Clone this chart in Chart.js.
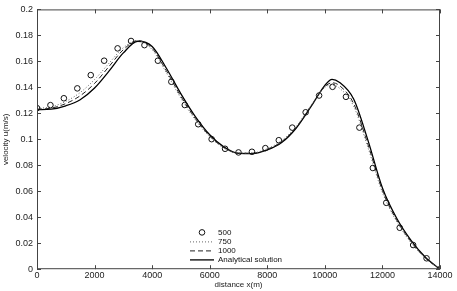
<!DOCTYPE html>
<html>
<head>
<meta charset="utf-8">
<script src="https://cdn.jsdelivr.net/npm/chart.js@4.4.1/dist/chart.umd.min.js"></script>
<style>
  html, body { margin: 0; padding: 0; background: #fff; }
  #grafico { display: block; }
</style>
</head>
<body>
<canvas id="grafico" width="457" height="291"></canvas>
<script>
// x positions (m) for the continuous curves
const lineX = [0, 500, 1000, 1500, 2000, 2500, 3000, 3500, 4000, 4500, 5000, 5500, 6000, 6500, 7000,
  7500, 8000, 8500, 9000, 9500, 10000, 10250, 10500, 11000, 11500, 12000, 12500, 13000, 13500, 14000];

const analitica = [0.1228, 0.1232, 0.1258, 0.1305, 0.1395, 0.1525, 0.1665, 0.1755, 0.1715, 0.1545, 0.1350,
  0.1175, 0.1035, 0.0940, 0.0892, 0.0890, 0.0918, 0.0975, 0.1085, 0.1245, 0.1415, 0.1462, 0.1440, 0.1310,
  0.0990, 0.0625, 0.0390, 0.0220, 0.0090, 0];

const malla1000 = [0.1232, 0.1240, 0.1275, 0.1335, 0.1430, 0.1560, 0.1690, 0.1760, 0.1700, 0.1525, 0.1330,
  0.1160, 0.1025, 0.0935, 0.0893, 0.0893, 0.0923, 0.0982, 0.1090, 0.1248, 0.1405, 0.1435, 0.1415, 0.1275,
  0.0958, 0.0605, 0.0375, 0.0210, 0.0085, 0];

const malla750 = [0.1238, 0.1250, 0.1292, 0.1360, 0.1460, 0.1585, 0.1705, 0.1760, 0.1690, 0.1510, 0.1315,
  0.1150, 0.1020, 0.0932, 0.0895, 0.0896, 0.0928, 0.0990, 0.1098, 0.1255, 0.1400, 0.1418, 0.1395, 0.1255,
  0.0935, 0.0590, 0.0365, 0.0202, 0.0082, 0];

// circles (500 m run)
const puntosX = [0, 467, 933, 1400, 1867, 2333, 2800, 3267, 3733, 4200, 4667, 5133, 5600, 6067, 6533, 7000,
  7467, 7933, 8400, 8867, 9333, 9800, 10267, 10733, 11200, 11667, 12133, 12600, 13067, 13533, 14000];
const malla500 = [0.1240, 0.1263, 0.1316, 0.1392, 0.1494, 0.1605, 0.1700, 0.1757, 0.1725, 0.1605, 0.1443,
  0.1264, 0.1116, 0.1001, 0.0927, 0.0899, 0.0904, 0.0932, 0.0993, 0.1090, 0.1208, 0.1337, 0.1404, 0.1327,
  0.1090, 0.0779, 0.0511, 0.0319, 0.0186, 0.0084, 0];

const etiquetas = ['500', '750', '1000', 'Analytical solution'];
const tituloX = 'distance x(m)';
const tituloY = 'velocity u(m/s)';

const fuente = '"Liberation Sans", Arial, sans-serif';

const toXY = (xs, ys) => xs.map((x, i) => ({ x: x, y: ys[i] }));

// marco, ticks hacia adentro, titulos y leyenda
const decoracion = {
  id: 'decoracion',
  afterDraw(chart) {
    const ctx = chart.ctx;
    const a = chart.chartArea;
    const sx = chart.scales.x, sy = chart.scales.y;
    ctx.save();
    ctx.setLineDash([]);
    ctx.globalAlpha = 1;
    ctx.fillStyle = '#444';
    const w = a.right - a.left, h = a.bottom - a.top;
    ctx.fillRect(a.left, a.top, w, 1);
    ctx.fillRect(a.left, a.bottom - 1, w, 1);
    ctx.fillRect(a.left, a.top, 1, h);
    ctx.fillRect(a.right - 1, a.top, 1, h);
    sx.ticks.forEach(t => {
      const px = Math.round(sx.getPixelForValue(t.value));
      ctx.fillRect(px, a.bottom - 4, 1, 4);
      ctx.fillRect(px, a.top, 1, 4);
    });
    sy.ticks.forEach(t => {
      const py = Math.round(sy.getPixelForValue(t.value));
      ctx.fillRect(a.left, py, 4, 1);
      ctx.fillRect(a.right - 4, py, 4, 1);
    });

    // titulos de ejes
    ctx.fillStyle = '#222';
    ctx.font = '8px ' + fuente;
    ctx.textAlign = 'center';
    ctx.textBaseline = 'middle';
    ctx.fillText(tituloX, (a.left + a.right) / 2, 285);
    ctx.save();
    ctx.translate(6, (a.top + a.bottom) / 2);
    ctx.rotate(-Math.PI / 2);
    ctx.fillText(tituloY, 0, 0);
    ctx.restore();

    // leyenda sin caja
    const x0 = a.left + 153, x1 = a.left + 177, xt = a.left + 181;
    let y = a.top + 223;
    ctx.textAlign = 'left';
    chart.data.datasets.forEach((ds, i) => {
      ctx.strokeStyle = ds.borderColor;
      ctx.lineWidth = ds.borderWidth || 1;
      if (i === 0) {
        ctx.beginPath();
        ctx.arc((x0 + x1) / 2, y, 2.8, 0, Math.PI * 2);
        ctx.stroke();
      } else {
        ctx.setLineDash(ds.borderDash || []);
        ctx.beginPath();
        ctx.moveTo(x0, y + 0.5); ctx.lineTo(x1, y + 0.5);
        ctx.stroke();
        ctx.setLineDash([]);
      }
      ctx.fillStyle = '#111';
      ctx.fillText(etiquetas[i], xt, y);
      y += 9;
    });
    ctx.restore();
  }
};

const grafica = new Chart(document.getElementById('grafico').getContext('2d'), {
  type: 'scatter',
  data: {
    datasets: [
      {
        label: etiquetas[0],
        data: toXY(puntosX, malla500),
        showLine: false,
        pointStyle: 'circle',
        pointRadius: 2.8,
        pointBorderWidth: 1,
        borderColor: '#111',
        backgroundColor: 'rgba(0,0,0,0)',
        borderWidth: 1
      },
      {
        label: etiquetas[1],
        data: toXY(lineX, malla750),
        showLine: true,
        pointRadius: 0,
        borderColor: '#666',
        borderWidth: 1,
        borderDash: [1, 2],
        cubicInterpolationMode: 'monotone'
      },
      {
        label: etiquetas[2],
        data: toXY(lineX, malla1000),
        showLine: true,
        pointRadius: 0,
        borderColor: '#222',
        borderWidth: 1,
        borderDash: [5, 3],
        cubicInterpolationMode: 'monotone'
      },
      {
        label: etiquetas[3],
        data: toXY(lineX, analitica),
        showLine: true,
        pointRadius: 0,
        borderColor: '#000',
        borderWidth: 1.3,
        cubicInterpolationMode: 'monotone'
      }
    ]
  },
  options: {
    responsive: false,
    animation: false,
    devicePixelRatio: 1,
    layout: { padding: { top: 9, right: 17, left: 0, bottom: 9 } },
    plugins: {
      legend: { display: false },
      tooltip: { enabled: false }
    },
    scales: {
      x: {
        type: 'linear',
        min: 0,
        max: 14000,
        grid: { display: false, drawTicks: false },
        border: { display: false },
        ticks: {
          stepSize: 2000,
          padding: 1,
          color: '#222',
          maxRotation: 0,
          font: { family: fuente, size: 9 },
          callback: v => String(v)
        },
        title: { display: false }
      },
      y: {
        min: 0,
        max: 0.2,
        grid: { display: false, drawTicks: false },
        border: { display: false },
        ticks: {
          stepSize: 0.02,
          padding: 4,
          color: '#222',
          font: { family: fuente, size: 9 },
          callback: v => String(+v.toFixed(2))
        },
        title: { display: false },
        afterFit: s => { s.width = 37; }
      }
    }
  },
  plugins: [decoracion]
});
</script>
</body>
</html>
